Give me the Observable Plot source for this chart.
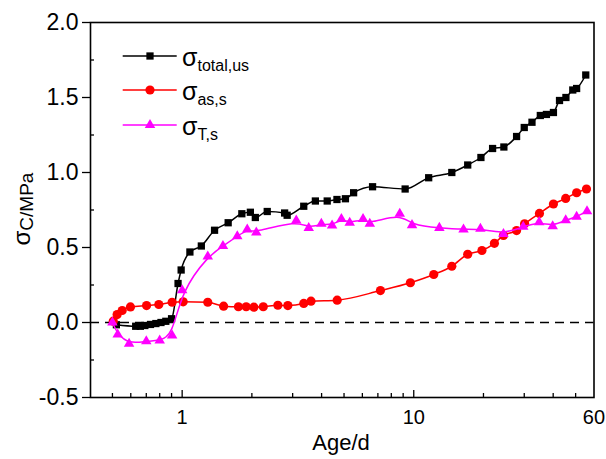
<!DOCTYPE html>
<html>
<head>
<meta charset="utf-8">
<script src="https://cdn.jsdelivr.net/npm/d3@7"></script>
<script src="https://cdn.jsdelivr.net/npm/@observablehq/plot@0.6"></script>
<style>
  html, body { margin: 0; padding: 0; background: #fff; }
  #chart { width: 606px; height: 459px; }
</style>
</head>
<body>
<div id="chart"></div>
<script>
// ---- data (age in days, stress in MPa) ----
const totalAge = [0.52,0.63,0.66,0.69,0.73,0.77,0.81,0.85,0.90,0.96,0.99,1.08,1.21,1.38,1.58,1.81,1.97,2.07,2.33,2.77,2.84,3.35,3.76,4.23,4.66,5.07,5.50,6.64,9.18,11.6,14.6,17.1,19.5,21.9,24.5,27.8,30.0,32.4,35.2,37.4,40.1,42.6,45.4,48.6,50.5,55.3];
const totalVal = [-0.015,-0.025,-0.025,-0.02,-0.013,-0.007,0.0,0.008,0.025,0.26,0.35,0.47,0.51,0.615,0.665,0.725,0.735,0.70,0.74,0.73,0.715,0.775,0.81,0.81,0.82,0.825,0.865,0.905,0.89,0.965,1.0,1.05,1.10,1.16,1.17,1.24,1.30,1.335,1.38,1.387,1.40,1.48,1.50,1.55,1.56,1.65];

const asAge = [0.504,0.524,0.551,0.598,0.702,0.793,0.905,1.01,1.29,1.51,1.75,1.89,2.04,2.24,2.59,2.86,3.35,3.60,4.67,7.18,9.67,12.2,14.6,17.1,19.7,22.3,24.4,27.8,30.1,34.9,40.1,45.3,50.5,55.7];
const asVal = [0.009,0.053,0.08,0.104,0.113,0.12,0.135,0.138,0.135,0.109,0.105,0.105,0.102,0.105,0.115,0.113,0.127,0.142,0.149,0.213,0.265,0.32,0.375,0.455,0.48,0.528,0.58,0.613,0.658,0.727,0.79,0.827,0.865,0.89];

const tAge = [0.50,0.527,0.59,0.70,0.80,0.905,1.0,1.29,1.50,1.73,1.91,2.09,3.11,3.52,3.99,4.44,4.87,5.29,6.04,6.46,8.70,9.83,12.9,16.4,19.4,24.4,29.7,34.8,39.8,45.3,50.5,56.0];
const tVal = [0.0,-0.08,-0.142,-0.125,-0.12,-0.087,0.215,0.44,0.51,0.575,0.62,0.60,0.68,0.63,0.658,0.647,0.69,0.665,0.69,0.658,0.725,0.649,0.631,0.62,0.625,0.59,0.638,0.669,0.642,0.682,0.705,0.742];

const xMajor = [1, 10, 60];
const xMinor = [0.5,0.6,0.7,0.8,0.9,2,3,4,5,6,7,8,9,20,30,40,50];
const yMajor = [-0.5, 0.0, 0.5, 1.0, 1.5, 2.0];
const yMinor = [-0.25, 0.25, 0.75, 1.25, 1.75];

const seriesNames = ["total,us", "as,s", "T,s"];
const seriesColors = ["#000000", "#ff0000", "#ff00ff"];

const toRows = (ages, vals) => ages.map((a, i) => ({age: a, v: vals[i]}));
const total = toRows(totalAge, totalVal);
const as = toRows(asAge, asVal);
const ts = toRows(tAge, tVal);

const font = '"Liberation Sans", Arial, sans-serif';

const plot = Plot.plot({
  width: 606,
  height: 459,
  marginLeft: 90,
  marginRight: 12.5,
  marginTop: 22,
  marginBottom: 62,
  style: {fontFamily: font, background: "#fff", color: "#000", overflow: "visible"},
  x: {type: "log", domain: [0.402, 60.02]},
  y: {domain: [-0.5, 2.0]},
  marks: [
    Plot.ruleY([0], {stroke: "#000", strokeWidth: 1.5, strokeDasharray: "9,6"}),
    Plot.line(total, {x: "age", y: "v", stroke: seriesColors[0], strokeWidth: 1.5, curve: "monotone-x"}),
    Plot.dot(total, {x: "age", y: "v", symbol: "square", r: 4.1, fill: seriesColors[0], stroke: "none"}),
    Plot.line(as, {x: "age", y: "v", stroke: seriesColors[1], strokeWidth: 1.5, curve: "monotone-x"}),
    Plot.dot(as, {x: "age", y: "v", symbol: "circle", r: 4.6, fill: seriesColors[1], stroke: "none"}),
    Plot.line(ts, {x: "age", y: "v", stroke: seriesColors[2], strokeWidth: 1.5, curve: "basis"}),
    Plot.dot(ts, {x: "age", y: "v", symbol: "triangle", r: 3.9, fill: seriesColors[2], stroke: "none"}),
    // x tick labels (as text marks so the end label at 60 is kept)
    Plot.text(xMajor, {x: d => d, frameAnchor: "bottom", lineAnchor: "top", dy: 12, fontSize: 20, fill: "#000", text: d => String(d)}),
    Plot.axisX([1, 10], {anchor: "bottom", tickSize: 7, dy: -7, tickFormat: () => "", label: null, strokeWidth: 1.3}),
    Plot.axisX(xMinor, {anchor: "bottom", tickSize: 4, dy: -4, tickFormat: () => "", label: null, strokeWidth: 1.3}),
    Plot.axisY(yMajor, {anchor: "left", tickSize: 8, tickPadding: 4, fontSize: 23, tickFormat: d => d.toFixed(1), label: null, strokeWidth: 1.3}),
    Plot.axisY(yMinor, {anchor: "left", tickSize: 4, dx: 4, tickFormat: () => "", label: null, strokeWidth: 1.3}),
    Plot.frame({stroke: "#000", strokeWidth: 1.6})
  ]
});

document.getElementById("chart").appendChild(plot);

// ---- overlay: axis titles and legend ----
const svg = d3.select(plot);

svg.append("text")
  .attr("x", 341).attr("y", 450)
  .style("text-anchor", "middle")
  .style("font-family", font).style("font-size", "22px")
  .style("fill", "#000")
  .text("Age/d");

const yt = svg.append("text")
  .attr("transform", "translate(30,209) rotate(-90)")
  .style("text-anchor", "middle")
  .style("font-family", font).style("fill", "#000");
yt.append("tspan").style("font-size", "24px").text("σ");
yt.append("tspan").style("font-size", "19px").attr("dy", 3).text("C/MPa");

const legendY = [56, 90, 125];
const symbols = [d3.symbolSquare, d3.symbolCircle, d3.symbolTriangle];
const symR = [4.1, 4.6, 3.9];
const g = svg.append("g");
seriesNames.forEach((name, i) => {
  const y = legendY[i];
  g.append("line").attr("x1", 122.7).attr("x2", 176.7).attr("y1", y).attr("y2", y)
    .attr("stroke", seriesColors[i]).attr("stroke-width", 1.5);
  g.append("path")
    .attr("transform", `translate(150,${y})`)
    .attr("d", d3.symbol(symbols[i], Math.PI * symR[i] * symR[i])())
    .attr("fill", seriesColors[i]);
  const t = g.append("text").attr("x", 182).attr("y", y + 10)
    .style("text-anchor", "start")
    .style("font-family", font).style("fill", "#000");
  t.append("tspan").style("font-size", "25px").text("σ");
  t.append("tspan").style("font-size", "16px").attr("dy", 4.5).text(name);
});
</script>
</body>
</html>
